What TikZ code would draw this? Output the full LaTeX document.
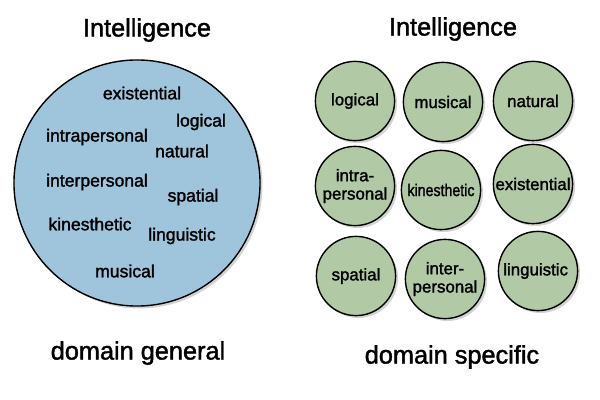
\documentclass[tikz,border=0pt]{standalone}
\usepackage{fontspec}
\setmainfont[FakeBold=1.6]{Liberation Sans}
\usetikzlibrary{shadows}
\definecolor{generalblue}{HTML}{9EC5DC}
\definecolor{specificgreen}{HTML}{B1C9A4}

\begin{document}
\begin{tikzpicture}[
    x=0.025cm, y=-0.025cm,
    heading/.style={font=\fontsize{18}{20}\selectfont, inner sep=0pt},
    general/.style={
        circle, draw=black, fill=generalblue, line width=1pt,
        minimum size=6.15cm, inner sep=0pt,
        drop shadow={shadow xshift=0.06cm, shadow yshift=-0.06cm, opacity=0.35}
    },
    word/.style={font=\fontsize{12.5}{14}\selectfont, inner sep=0pt},
    specific/.style={
        circle, draw=black, fill=specificgreen, line width=1pt,
        minimum size=1.98cm, inner sep=0pt, align=center,
        font=\fontsize{12}{13}\selectfont,
        drop shadow={shadow xshift=0.06cm, shadow yshift=-0.06cm, opacity=0.35}
    }
]

\useasboundingbox (0,0) rectangle (600,400);

% domain general
\node[heading] (titleG) at (147,30) {Intelligence};
\node[general] (general) at (137,183) {};

\foreach \x/\y/\lbl [count=\i] in {
    142/93/existential,
    201/122/logical,
    97/137/intrapersonal,
    182/151/natural,
    97/182/interpersonal,
    193/197/spatial,
    90/224/kinesthetic,
    182/236/linguistic,
    125/271/musical
} {
    \node[word] (W\i) at (\x,\y) {\lbl};
}

\node[heading] (domG) at (138,353) {domain general};

% domain specific
\node[heading] (titleS) at (453,29) {Intelligence};

\foreach \x/\y/\lbl [count=\i] in {
    355/101/logical,
    443/102/musical,
    533/101/natural,
    355/186/{intra-\\personal},
    441/190/{\scalebox{0.84}[1]{kinesthetic}},
    533/184/existential,
    356/276/spatial,
    445/279/{inter-\\personal},
    538/271/linguistic
} {
    \node[specific] (S\i) at (\x,\y) {\lbl};
}

\node[heading] (domS) at (452,357) {domain specific};

\end{tikzpicture}
\end{document}
